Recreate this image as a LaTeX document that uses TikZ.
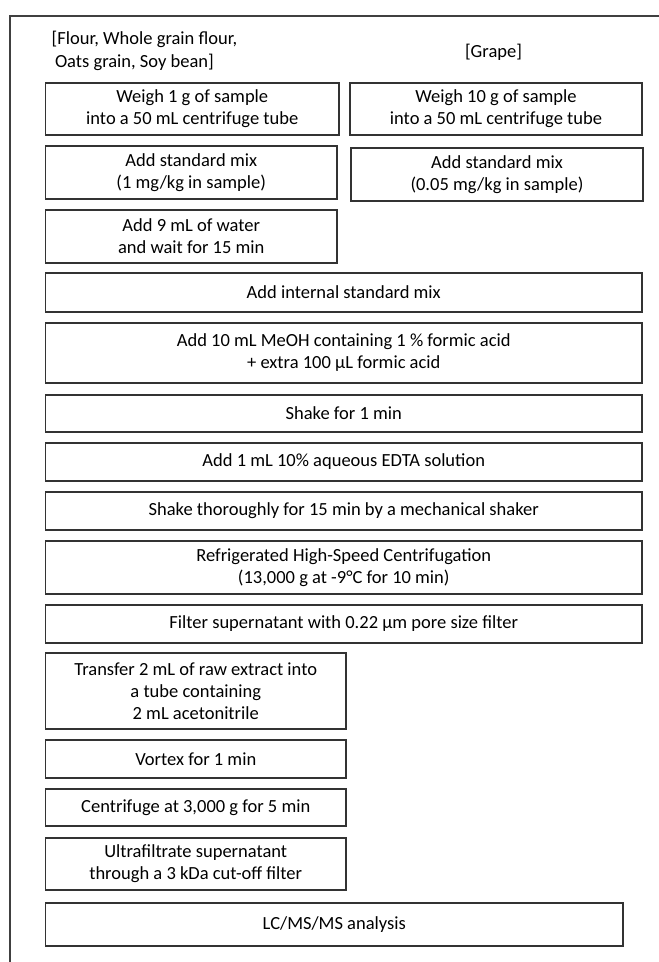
\documentclass[tikz,border=0pt]{standalone}
\usepackage{fontspec}
\setmainfont{Carlito}
\begin{document}
\begin{tikzpicture}[x=1pt,y=-1pt,
  txt/.style={font=\fontsize{18.5}{22}\selectfont},
  stepbox/.style={txt, draw=black!80, line width=1.1pt, align=center, inner sep=0pt},
  lbl/.style={txt, inner sep=0pt},
  frame/.style={draw=black!75, line width=1.3pt}]
\useasboundingbox (0,0) rectangle (659,962);
\draw[frame] (659,16) -- (10,16) -- (10,962);

\node[lbl, align=left, anchor=west] (srcA) at (51.5,50.5) {[Flour, Whole grain flour,\\[1pt]\hspace{3.3pt}Oats grain, Soy bean]};
\node[lbl] (srcB) at (493.5,52) {[Grape]};

\node[stepbox, minimum width=293.5pt, minimum height=52pt] (w1) at (192.25,109) {Weigh 1 g of sample\\into a 50 mL centrifuge tube};
\node[stepbox, minimum width=292pt, minimum height=52pt] (w10) at (496,109) {Weigh 10 g of sample\\into a 50 mL centrifuge tube};
\node[stepbox, minimum width=291.5pt, minimum height=53pt] (s1) at (191.25,172.5) {Add standard mix\\(1 mg/kg in sample)};
\node[stepbox, minimum width=292pt, minimum height=53pt] (s2) at (497,174.5) {Add standard mix\\(0.05 mg/kg in sample)};
\node[stepbox, minimum width=291.5pt, minimum height=53pt] (water) at (191.25,236.5) {Add 9 mL of water\\and wait for 15 min};

\node[stepbox, minimum width=596.5pt, minimum height=39pt] (istd) at (343.75,292.5) {Add internal standard mix};
\node[stepbox, minimum width=596.5pt, minimum height=60pt] (meoh) at (343.75,353) {Add 10 mL MeOH containing 1 \% formic acid\\+ extra 100 µL formic acid};
\node[stepbox, minimum width=596.5pt, minimum height=37pt] (shake) at (343.75,413.5) {Shake for 1 min};
\node[stepbox, minimum width=596.5pt, minimum height=38pt] (edta) at (343.75,462) {Add 1 mL 10\% aqueous EDTA solution};
\node[stepbox, minimum width=596.5pt, minimum height=38pt] (shaket) at (343.75,511) {Shake thoroughly for 15 min by a mechanical shaker};
\node[stepbox, minimum width=596.5pt, minimum height=53pt] (cent1) at (343.75,567.5) {Refrigerated High-Speed Centrifugation\\(13,000 g at -9°C for 10 min)};
\node[stepbox, minimum width=596.5pt, minimum height=38pt] (filt) at (343.75,624) {Filter supernatant with 0.22 µm pore size filter};

\node[stepbox, minimum width=300.5pt, minimum height=76pt] (trans) at (195.75,691) {Transfer 2 mL of raw extract into\\a tube containing\\2 mL acetonitrile};
\node[stepbox, minimum width=300.5pt, minimum height=38pt] (vort) at (195.75,759) {Vortex for 1 min};
\node[stepbox, minimum width=300.5pt, minimum height=37pt] (cent2) at (195.75,807.5) {Centrifuge at 3,000 g for 5 min};
\node[stepbox, minimum width=300.5pt, minimum height=52pt] (ultra) at (195.75,864) {Ultrafiltrate supernatant\\through a 3 kDa cut-off filter};
\node[stepbox, minimum width=577.5pt, minimum height=43pt] (lc) at (334.25,924.5) {LC/MS/MS analysis};
\end{tikzpicture}
\end{document}
